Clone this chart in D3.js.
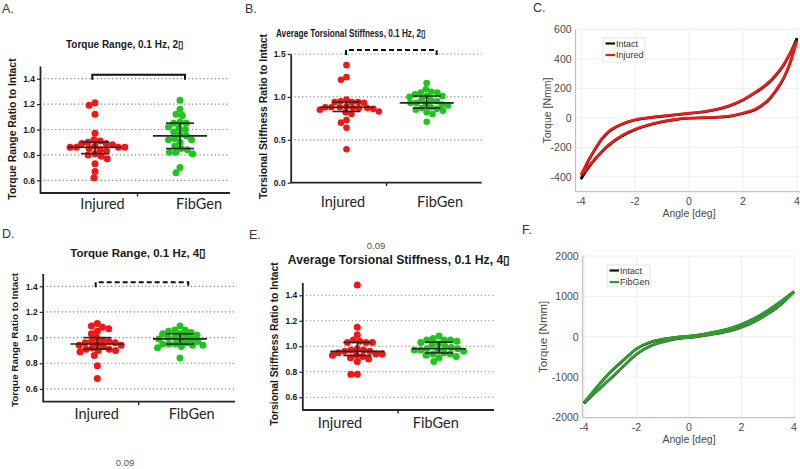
<!DOCTYPE html>
<html>
<head>
<meta charset="utf-8">
<script src="https://cdn.jsdelivr.net/npm/d3@7"></script>
<style>
    body { margin: 0; background: #fff; }
    svg { display: block; font-family: "Liberation Sans", Arial, sans-serif; }
</style>
</head>
<body>
<svg id="chart" width="800" height="469"></svg>
<script>
// ---- data ----
const groups = ['Injured', 'FibGen'];
const dotColors = ['#f21616', '#1fc41f'];

const ratioTicks = [0.6, 0.8, 1.0, 1.2, 1.4];
const stiffTicks2 = [0.0, 0.5, 1.0, 1.5];

const torque2Injured = [1.21, 1.19, 1.12, 0.97, 0.92, 0.91, 0.90, 0.89, 0.89, 0.88, 0.87, 0.86, 0.86, 0.86, 0.86, 0.85, 0.84, 0.83, 0.81, 0.80, 0.79, 0.77, 0.73, 0.67, 0.62];
const torque2FibGen  = [1.23, 1.16, 1.12, 1.11, 1.06, 1.05, 1.05, 1.02, 1.01, 1.00, 0.98, 0.96, 0.95, 0.93, 0.92, 0.92, 0.90, 0.87, 0.85, 0.84, 0.82, 0.82, 0.81, 0.70, 0.66];
const stiff2Injured  = [1.37, 1.23, 1.20, 0.97, 0.95, 0.94, 0.94, 0.94, 0.93, 0.89, 0.88, 0.88, 0.88, 0.87, 0.87, 0.87, 0.86, 0.85, 0.83, 0.82, 0.80, 0.73, 0.70, 0.64, 0.39];
const stiff2FibGen   = [1.16, 1.09, 1.06, 1.05, 1.05, 1.03, 1.01, 1.01, 1.00, 0.97, 0.96, 0.95, 0.93, 0.93, 0.92, 0.91, 0.90, 0.88, 0.87, 0.86, 0.85, 0.84, 0.82, 0.80, 0.71];
const torque4Injured = [1.11, 1.09, 1.08, 1.07, 1.05, 1.03, 1.00, 0.98, 0.97, 0.97, 0.96, 0.96, 0.95, 0.94, 0.94, 0.93, 0.92, 0.91, 0.91, 0.90, 0.90, 0.89, 0.86, 0.78, 0.68];
const torque4FibGen  = [1.09, 1.06, 1.06, 1.05, 1.04, 1.03, 1.03, 1.02, 1.01, 1.00, 1.00, 0.99, 0.99, 0.98, 0.97, 0.96, 0.95, 0.95, 0.95, 0.94, 0.94, 0.93, 0.92, 0.84];
const stiff4Injured  = [1.48, 1.15, 1.09, 1.05, 1.04, 1.03, 1.03, 1.03, 0.98, 0.97, 0.97, 0.96, 0.96, 0.95, 0.94, 0.94, 0.93, 0.93, 0.92, 0.91, 0.90, 0.88, 0.78, 0.78];
const stiff4FibGen   = [1.08, 1.06, 1.05, 1.05, 1.05, 1.04, 1.03, 1.02, 1.01, 1.00, 0.99, 0.98, 0.98, 0.97, 0.97, 0.97, 0.96, 0.95, 0.94, 0.94, 0.93, 0.92, 0.91, 0.88];

// hysteresis loops (angle in deg, torque in Nmm), upper and lower branch
const angleC = [-4, -3.75, -3.5, -3.25, -3, -2.5, -2, -1.5, -1, -0.5, 0, 0.5, 1, 1.5, 2, 2.5, 3, 3.25, 3.5, 3.75, 4];
const intactUpperC  = [-415, -300, -220, -150, -100, -45, -15, 0, 10, 20, 30, 40, 55, 80, 120, 175, 245, 295, 355, 440, 540];
const intactLowerC  = [-415, -345, -285, -235, -190, -125, -80, -50, -28, -12, -3, 0, 3, 10, 30, 60, 130, 190, 265, 375, 540];
const injuredUpperC = [-385, -295, -215, -145, -95, -42, -12, 2, 13, 22, 32, 42, 58, 84, 124, 180, 250, 300, 360, 440, 520];
const injuredLowerC = [-385, -335, -280, -230, -185, -120, -76, -47, -25, -10, -1, 2, 5, 13, 33, 64, 135, 195, 270, 375, 520];
const torqueTicksC = [-400, -200, 0, 200, 400, 600];

const angleF = [-4, -3.5, -3, -2.5, -2, -1.5, -1, -0.5, 0, 0.5, 1, 1.5, 2, 2.5, 3, 3.5, 4];
const intactUpperF = [-1640, -1240, -880, -580, -300, -140, -60, -15, 15, 60, 120, 195, 305, 455, 650, 875, 1120];
const intactLowerF = [-1640, -1335, -1040, -730, -430, -235, -125, -50, -15, 25, 75, 140, 235, 380, 565, 800, 1120];
const fibgenUpperF = [-1620, -1230, -870, -570, -290, -130, -55, -10, 20, 65, 125, 200, 310, 460, 655, 880, 1110];
const fibgenLowerF = [-1620, -1330, -1035, -725, -425, -230, -120, -48, -12, 28, 78, 145, 240, 385, 570, 805, 1110];
const torqueTicksF = [-2000, -1000, 0, 1000, 2000];
const angleTicks = [-4, -2, 0, 2, 4];

// ---- drawing ----
const svg = d3.select('#chart');
svg.append('rect').attr('width', 800).attr('height', 469).attr('fill', '#fff');

const BOLD = '"Liberation Sans", Arial, sans-serif';

// simple beeswarm: place each dot at the smallest offset that does not collide
function swarm(values, y, r) {
    const pts = values.map(v => ({ v, y: y(v), dx: 0 })).sort((a, b) => a.y - b.y);
    const placed = [];
    const D = 2 * r * 0.92;
    pts.forEach(p => {
        const spans = [];
        placed.forEach(q => {
            const dy = Math.abs(q.y - p.y);
            if (dy < D) {
                const w = Math.sqrt(D * D - dy * dy);
                spans.push([q.dx - w, q.dx + w]);
            }
        });
        const cands = [0].concat(...spans).sort((a, b) => Math.abs(a) - Math.abs(b) || a - b);
        for (const c of cands) {
            if (spans.every(([a, b]) => c <= a + 1e-6 || c >= b - 1e-6)) { p.dx = c; break; }
        }
        placed.push(p);
    });
    return pts;
}

function drawDotPanel(p) {
    const g = svg.append('g');
    const y = d3.scaleLinear().domain(p.domain).range([p.bottom, p.top]);
    const x = d3.scalePoint().domain(groups).range(p.centers);

    // 虛線格線
    g.append('g').selectAll('line')
        .data(p.ticks.filter(t => t > p.domain[0]))
        .join('line')
        .attr('x1', p.left).attr('x2', p.right)
        .attr('y1', d => y(d)).attr('y2', d => y(d))
        .attr('stroke', '#808080').attr('stroke-width', 1.2)
        .attr('stroke-dasharray', '1.2,2.6');

    // 點與中位數/四分位
    p.data.forEach((vals, i) => {
        const cx = x(groups[i]);
        g.append('g').selectAll('circle')
            .data(swarm(vals, y, p.r))
            .join('circle')
            .attr('cx', d => cx + d.dx)
            .attr('cy', d => d.y)
            .attr('r', p.r)
            .attr('fill', dotColors[i]);

        const s = vals.slice().sort(d3.ascending);
        const med = d3.quantile(s, 0.5), q1 = d3.quantile(s, 0.25), q3 = d3.quantile(s, 0.75);
        const eb = g.append('g').attr('stroke', '#262626').attr('stroke-width', 1.6);
        eb.append('line').attr('x1', cx - 27).attr('x2', cx + 27).attr('y1', y(med)).attr('y2', y(med));
        eb.append('line').attr('x1', cx).attr('x2', cx).attr('y1', y(q1)).attr('y2', y(q3));
        [q1, q3].forEach(q => {
            eb.append('line').attr('x1', cx - 14).attr('x2', cx + 14).attr('y1', y(q)).attr('y2', y(q));
        });
    });

    // y 軸
    const ya = g.append('g')
        .attr('transform', `translate(${p.left},0)`)
        .call(d3.axisLeft(y).tickValues(p.ticks).tickFormat(d3.format('.1f'))
            .tickSize(3).tickSizeOuter(0).tickPadding(2));
    ya.attr('font-family', BOLD).attr('font-size', 8.5).attr('font-weight', 'bold');
    ya.select('.domain').attr('stroke', '#262626').attr('stroke-width', 1.8);
    ya.selectAll('.tick line').attr('stroke', '#262626').attr('stroke-width', 1.2);
    ya.selectAll('.tick text').attr('fill', '#1a1a1a');

    // x 軸
    g.append('line')
        .attr('x1', p.left).attr('x2', p.right)
        .attr('y1', p.bottom).attr('y2', p.bottom)
        .attr('stroke', '#262626').attr('stroke-width', 1.8);
    const mid = (p.centers[0] + p.centers[1]) / 2;
    g.append('line')
        .attr('x1', mid).attr('x2', mid)
        .attr('y1', p.bottom).attr('y2', p.bottom + 3.5)
        .attr('stroke', '#262626').attr('stroke-width', 1.4);

    groups.forEach((name, i) => {
        g.append('text')
            .attr('x', p.catX[i]).attr('y', p.catY).attr('dy', '0.35em')
            .attr('text-anchor', 'middle')
            .attr('font-family', 'Lato, "Open Sans", sans-serif')
            .attr('font-size', 14.5).attr('fill', '#262626')
            .text(name);
    });

    // 標題
    const title = g.append('text')
        .attr('x', p.titleX).attr('y', p.titleY).attr('dy', '0.35em')
        .attr('text-anchor', 'middle')
        .attr('font-family', BOLD).attr('font-weight', 'bold')
        .attr('font-size', p.titleSize).attr('fill', '#1a1a1a')
        .text(p.title);
    if (p.titleWidth) {
        title.attr('textLength', p.titleWidth).attr('lengthAdjust', 'spacingAndGlyphs');
    }

    g.append('text')
        .attr('transform', `translate(${p.ylabelX},${p.ylabelY}) rotate(-90)`)
        .attr('dy', '0.35em')
        .attr('text-anchor', 'middle')
        .attr('font-family', BOLD).attr('font-weight', 'bold')
        .attr('font-size', p.ylabelSize).attr('fill', '#1a1a1a')
        .text(p.ylabel);

    // 顯著性括號
    if (p.bracket) {
        const base = y(p.ticks[p.ticks.length - 1]) + 1;
        const top = base - 5;
        const [bx1, bx2] = p.bracket.x;
        g.append('path')
            .attr('d', `M${bx1},${base}V${top}H${bx2}V${base}`)
            .attr('fill', 'none')
            .attr('stroke', '#111').attr('stroke-width', 2)
            .attr('stroke-dasharray', p.bracket.dashed ? '5,3' : null);
    }
}

function drawCurvePanel(p) {
    const g = svg.append('g');
    const x = d3.scaleLinear().domain(p.xDomain).range([p.left, p.right]);
    const y = d3.scaleLinear().domain(p.yDomain).range([p.bottom, p.top]);

    // MATLAB 風格格線
    g.append('g').selectAll('line').data(angleTicks).join('line')
        .attr('x1', d => x(d)).attr('x2', d => x(d))
        .attr('y1', p.top).attr('y2', p.bottom)
        .attr('stroke', '#eeeeee').attr('stroke-width', 1);
    g.append('g').selectAll('line').data(p.yTicks).join('line')
        .attr('x1', p.left).attr('x2', p.right)
        .attr('y1', d => y(d)).attr('y2', d => y(d))
        .attr('stroke', '#eeeeee').attr('stroke-width', 1);

    g.append('path')
        .attr('d', `M${p.left},${p.top}V${p.bottom}H${p.right}`)
        .attr('fill', 'none').attr('stroke', '#b8b8b8').attr('stroke-width', 1);

    g.append('g').selectAll('text').data(angleTicks).join('text')
        .attr('x', d => x(d)).attr('y', p.bottom + 10).attr('dy', '0.35em')
        .attr('text-anchor', 'middle')
        .attr('font-size', 10.5).attr('fill', '#4a4a4a')
        .text(d => d);
    g.append('g').selectAll('text').data(p.yTicks).join('text')
        .attr('x', p.left - 4).attr('y', d => y(d)).attr('dy', '0.35em')
        .attr('text-anchor', 'end')
        .attr('font-size', 10.5).attr('fill', '#4a4a4a')
        .text(d => d);

    g.append('text')
        .attr('x', x(0)).attr('y', p.bottom + 22).attr('dy', '0.35em')
        .attr('text-anchor', 'middle')
        .attr('font-size', 10.5).attr('fill', '#4a4a4a')
        .text('Angle [deg]');
    g.append('text')
        .attr('transform', `translate(${p.ylabelX},${(p.top + p.bottom) / 2}) rotate(-90)`)
        .attr('dy', '0.35em')
        .attr('text-anchor', 'middle')
        .attr('font-size', p.ylabelSize).attr('fill', '#4a4a4a')
        .text('Torque [Nmm]');

    p.series.forEach(s => {
        const line = d3.line()
            .x((d, i) => x(p.angles[i]))
            .y(d => y(d))
            .curve(d3.curveMonotoneX);
        [s.upper, s.lower].forEach(branch => {
            g.append('path')
                .attr('d', line(branch))
                .attr('fill', 'none')
                .attr('stroke', s.color)
                .attr('stroke-width', 2.6)
                .attr('stroke-linejoin', 'round');
        });
    });

    // 圖例
    const lg = g.append('g').attr('transform', `translate(${p.legend.x},${p.legend.y})`);
    lg.append('rect')
        .attr('width', p.legend.w).attr('height', p.legend.h)
        .attr('fill', '#fff').attr('stroke', '#dcdcdc').attr('stroke-width', 0.8);
    p.series.forEach((s, i) => {
        const ly = 5.5 + i * 11.5;
        lg.append('line')
            .attr('x1', 2.5).attr('x2', 12).attr('y1', ly).attr('y2', ly)
            .attr('stroke', s.color).attr('stroke-width', 2.2);
        lg.append('text')
            .attr('x', 13).attr('y', ly).attr('dy', '0.35em')
            .attr('font-size', 9).attr('fill', '#333')
            .text(s.name);
    });
}

drawDotPanel({
    title: 'Torque Range, 0.1 Hz, 2\u25AF', ylabel: 'Torque Range Ratio to Intact',
    data: [torque2Injured, torque2FibGen], domain: [0.5, 1.5], ticks: ratioTicks,
    left: 40, right: 230, top: 66, bottom: 193, centers: [95, 180], r: 3.5,
    titleX: 125, titleY: 44, titleSize: 10,
    ylabelX: 12, ylabelY: 129, ylabelSize: 10.4,
    catX: [102.5, 199], catY: 204,
    bracket: { x: [92.3, 185], dashed: false }
});
drawDotPanel({
    title: 'Average Torsional Stiffness, 0.1 Hz, 2\u25AF', ylabel: 'Torsional Stiffness Ratio to Intact',
    data: [stiff2Injured, stiff2FibGen], domain: [0, 1.5], ticks: stiffTicks2,
    left: 290.7, right: 481.7, top: 54, bottom: 182.7, centers: [346.5, 426.7], r: 3.3,
    titleX: 351, titleY: 33.3, titleSize: 10, titleWidth: 150,
    ylabelX: 263, ylabelY: 116.5, ylabelSize: 10.4,
    catX: [343, 440], catY: 201.7,
    bracket: { x: [346, 436.7], dashed: true }
});
drawDotPanel({
    title: 'Torque Range, 0.1 Hz, 4\u25AF', ylabel: 'Torque Range Ratio to Intact',
    data: [torque4Injured, torque4FibGen], domain: [0.5, 1.5], ticks: ratioTicks,
    left: 42.7, right: 235, top: 273.5, bottom: 401.7, centers: [97.3, 180], r: 3.5,
    titleX: 138.3, titleY: 252.7, titleSize: 11.5,
    ylabelX: 15, ylabelY: 340, ylabelSize: 9.9,
    catX: [96.7, 191.7], catY: 414.3,
    bracket: { x: [95.7, 188.3], dashed: true }
});
drawDotPanel({
    title: 'Average Torsional Stiffness, 0.1 Hz, 4\u25AF', ylabel: 'Torsional Stiffness Ratio to Intact',
    data: [stiff4Injured, stiff4FibGen], domain: [0.5, 1.5], ticks: ratioTicks,
    left: 302.3, right: 494, top: 282.5, bottom: 410, centers: [357.3, 439], r: 3.5,
    titleX: 399, titleY: 260, titleSize: 12.2,
    ylabelX: 274, ylabelY: 344, ylabelSize: 10.3,
    catX: [340, 435.8], catY: 423.3,
    bracket: null
});

drawCurvePanel({
    xDomain: [-4.2, 4.2], yDomain: [-500, 600], yTicks: torqueTicksC,
    left: 575.6, right: 802.4, top: 29.3, bottom: 191.7,
    ylabelX: 547.3, ylabelSize: 10.5, angles: angleC,
    series: [
        { name: 'Intact', color: '#111', upper: intactUpperC, lower: intactLowerC },
        { name: 'Injured', color: '#f01818', upper: injuredUpperC, lower: injuredLowerC }
    ],
    legend: { x: 603, y: 38, w: 42, h: 24 }
});
drawCurvePanel({
    xDomain: [-4.05, 4.05], yDomain: [-2000, 2000], yTicks: torqueTicksF,
    left: 582.7, right: 795.3, top: 256, bottom: 417.7,
    ylabelX: 543.3, ylabelSize: 11.5, angles: angleF,
    series: [
        { name: 'Intact', color: '#111', upper: intactUpperF, lower: intactLowerF },
        { name: 'FibGen', color: '#2f9e2f', upper: fibgenUpperF, lower: fibgenLowerF }
    ],
    legend: { x: 607, y: 265, w: 43, h: 22 }
});

// p 值與面板字母
[[125, 463, '0.09'], [376, 246, '0.09']].forEach(([px, py, t]) => {
    svg.append('text')
        .attr('x', px).attr('y', py).attr('dy', '0.35em')
        .attr('text-anchor', 'middle')
        .attr('font-size', 9.5).attr('fill', '#555')
        .text(t);
});
[['A.', 2, 13], ['B.', 245, 13], ['C.', 533, 12], ['D.', 2, 238], ['E.', 249, 239], ['F.', 522, 234]]
    .forEach(([t, px, py]) => {
        svg.append('text')
            .attr('x', px).attr('y', py)
            .attr('font-size', 12.5).attr('fill', '#333')
            .text(t);
    });
</script>
</body>
</html>
